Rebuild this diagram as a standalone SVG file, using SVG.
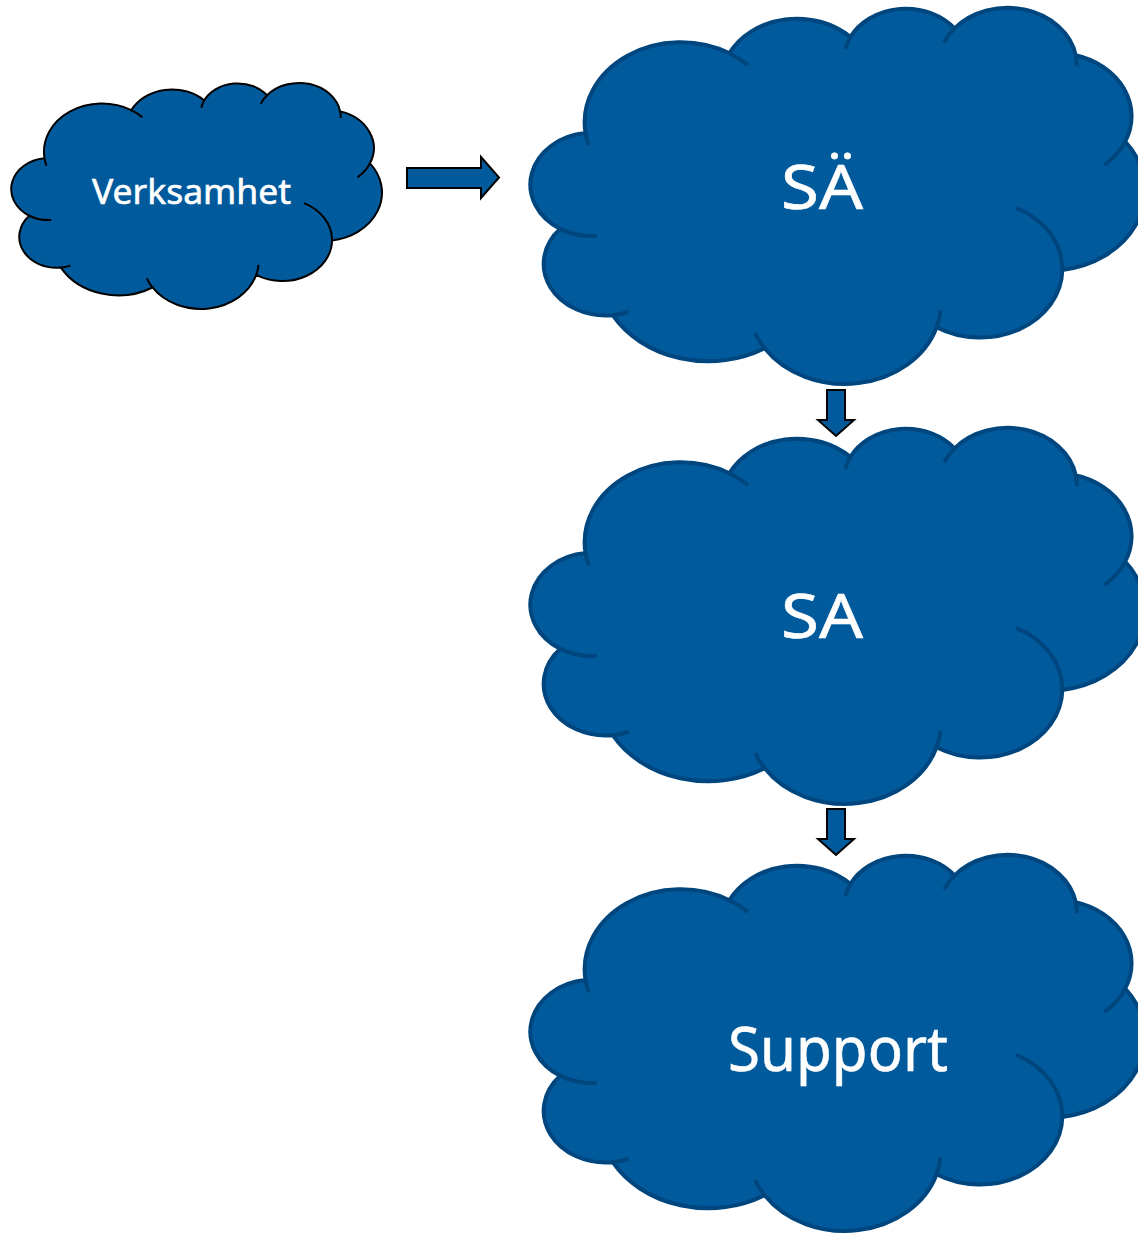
<svg xmlns="http://www.w3.org/2000/svg" xmlns:xlink="http://www.w3.org/1999/xlink" width="1138" height="1233" viewBox="0 0 1138 1233">
  <style>
    .label { fill: #ffffff; stroke: #ffffff; stroke-width: 0.6; font-family: "Noto Sans", "Open Sans", "DejaVu Sans", sans-serif; }
    .big use { fill: #005a9c; stroke: #00467e; stroke-width: 4; }
    .small use { fill: #005a9c; stroke: #000000; stroke-width: 2; }
    .arrow { fill: #005a9c; stroke: #000000; stroke-width: 2; stroke-linejoin: miter; }
  </style>
  <defs>
    <!-- cloud outline in a 43200 x 43200 unit box -->
    <path id="cloud-outline" vector-effect="non-scaling-stroke"
      d="M3900 14370 A6753 9190 0 0 1 14000 5192 A5333 7267 0 0 1 22500 3330 A4365 5945 0 0 1 29820 2341 A4857 6595 0 0 1 38324 5426 A5333 7273 0 0 1 41798 15354 A6775 9220 0 0 1 37382 30094 A5785 7867 0 0 1 28550 36685 A6752 9215 0 0 1 16478 39090 A7720 10543 0 0 1 5810 35290 A4360 5918 0 0 1 2130 25376 A4345 5945 0 0 1 3900 14370 Z"/>
    <!-- inner crease strokes between the puffs -->
    <path id="cloud-creases" vector-effect="non-scaling-stroke" fill="none"
      d="M4693 26177 A4345 5945 0 0 1 2130 25376 M6928 34899 A4360 5918 0 0 1 5810 35290 M16478 39090 A6752 9215 0 0 1 15810 37350 M28827 34751 A6752 9215 0 0 1 28550 36685 M34129 22954 A5785 7867 0 0 1 37382 30094 M41798 15354 A5333 7273 0 0 1 40350 18030 M38324 5426 A4857 6595 0 0 1 38400 6690 M29078 3952 A4857 6595 0 0 1 29820 2341 M22141 4720 A4365 5945 0 0 1 22500 3330 M14000 5192 A6753 9190 0 0 1 15300 6540 M4127 15789 A6753 9190 0 0 1 3900 14370"/>
  </defs>

  <g id="node-verksamhet" class="small">
    <g transform="translate(11,83) scale(0.008588,0.0052315)">
      <use xlink:href="#cloud-outline" href="#cloud-outline"/>
      <use xlink:href="#cloud-creases" href="#cloud-creases" style="fill:none"/>
    </g>
    <text class="label" x="92" y="204" font-size="34" textLength="199" lengthAdjust="spacingAndGlyphs">Verksamhet</text>
  </g>

  <g id="node-sae" class="big">
    <g transform="translate(530,8) scale(0.01424,0.0087037)">
      <use xlink:href="#cloud-outline" href="#cloud-outline"/>
      <use xlink:href="#cloud-creases" href="#cloud-creases" style="fill:none"/>
    </g>
    <text class="label" x="781" y="209" font-size="62" textLength="82" lengthAdjust="spacingAndGlyphs">SÄ</text>
  </g>

  <g id="node-sa" class="big">
    <g transform="translate(530,428) scale(0.01424,0.0087037)">
      <use xlink:href="#cloud-outline" href="#cloud-outline"/>
      <use xlink:href="#cloud-creases" href="#cloud-creases" style="fill:none"/>
    </g>
    <text class="label" x="781" y="638" font-size="62" textLength="82" lengthAdjust="spacingAndGlyphs">SA</text>
  </g>

  <g id="node-support" class="big">
    <g transform="translate(530,855) scale(0.01424,0.0087037)">
      <use xlink:href="#cloud-outline" href="#cloud-outline"/>
      <use xlink:href="#cloud-creases" href="#cloud-creases" style="fill:none"/>
    </g>
    <text class="label" x="728" y="1071" font-size="62" textLength="220" lengthAdjust="spacingAndGlyphs">Support</text>
  </g>

  <g id="connectors">
    <polygon class="arrow" points="407,168 481,168 481,157 499,177.5 481,198 481,188 407,188"/>
    <polygon class="arrow" points="827,390 845,390 845,420 854,420 836,436 818,420 827,420"/>
    <polygon class="arrow" points="827,809 845,809 845,839 854,839 836,855 818,839 827,839"/>
  </g>
</svg>
